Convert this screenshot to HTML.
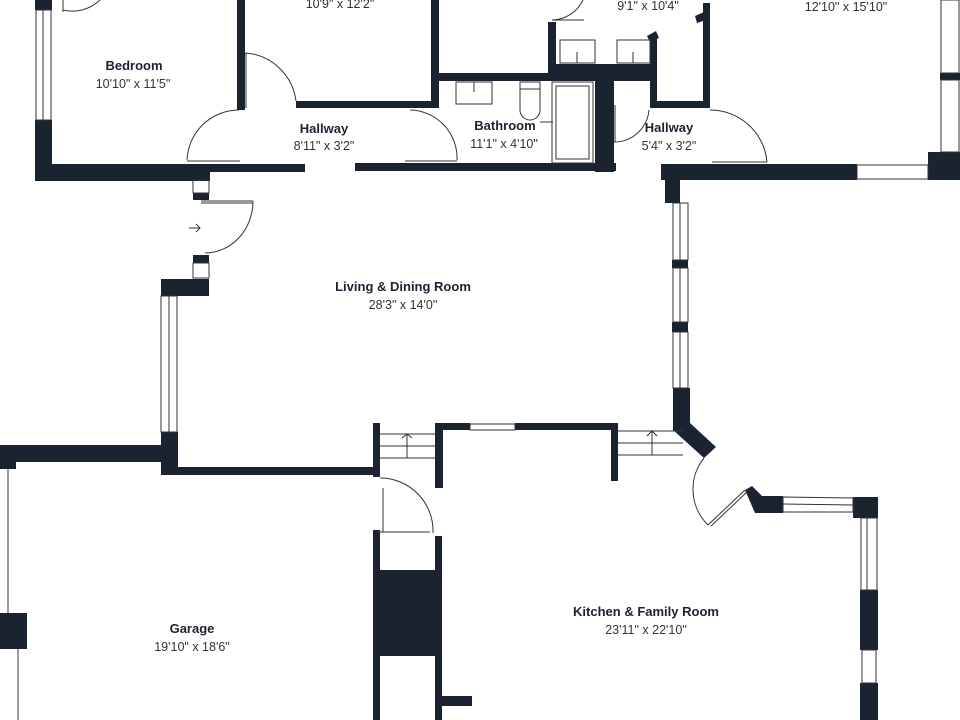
<!DOCTYPE html>
<html><head><meta charset="utf-8"><style>
html,body{margin:0;padding:0;background:#fff;width:960px;height:720px;overflow:hidden}
svg{display:block}
.b{font-family:"Liberation Sans",sans-serif;font-weight:bold;font-size:13px;fill:#1c2330;text-anchor:middle}
.r{font-family:"Liberation Sans",sans-serif;font-size:12.5px;fill:#333;text-anchor:middle}
</style></head><body>
<svg width="960" height="720" viewBox="0 0 960 720" xmlns="http://www.w3.org/2000/svg">
<g fill="#1c2330">
<rect x="35" y="0" width="17" height="10"/>
<rect x="35" y="120" width="17" height="60"/>
<rect x="35" y="164" width="175" height="17"/>
<rect x="193" y="164" width="112" height="8"/>
<rect x="355" y="163" width="261" height="8"/>
<rect x="237" y="0" width="8" height="110"/>
<rect x="431" y="0" width="8" height="108"/>
<rect x="296" y="101" width="143" height="7"/>
<rect x="438" y="73" width="212" height="8"/>
<rect x="548" y="22" width="8" height="58"/>
<rect x="555" y="64" width="95" height="17"/>
<rect x="595" y="64" width="19" height="108"/>
<rect x="650" y="37" width="7" height="71"/>
<polygon points="647,36 656,31 659,38 650,42"/>
<rect x="650" y="101" width="60" height="7"/>
<rect x="703" y="3" width="7" height="105"/>
<polygon points="695,16 704,12 706,20 697,23"/>
<rect x="940" y="73" width="20" height="7"/>
<rect x="928" y="152" width="32" height="28"/>
<rect x="661" y="164" width="196" height="16"/>
<rect x="665" y="164" width="15" height="39"/>
<rect x="672" y="260" width="16" height="8"/>
<rect x="672" y="322" width="16" height="10"/>
<polygon points="673,388 690,388 690,423 716,447 704,458 673,430"/>
<polygon points="745,490 752,486 762,496 783,496 783,513 755,513"/>
<rect x="853" y="497" width="25" height="21"/>
<rect x="860" y="590" width="18" height="60"/>
<rect x="860" y="683" width="18" height="37"/>
<rect x="193" y="193" width="16" height="7"/>
<rect x="193" y="255" width="16" height="8"/>
<rect x="161" y="279" width="48" height="17"/>
<rect x="161" y="432" width="17" height="43"/>
<rect x="0" y="445" width="178" height="17"/>
<rect x="0" y="445" width="16" height="24"/>
<rect x="170" y="467" width="210" height="8"/>
<rect x="373" y="423" width="7" height="54"/>
<rect x="435" y="423" width="8" height="65"/>
<rect x="435" y="423" width="35" height="7"/>
<rect x="515" y="423" width="103" height="7"/>
<rect x="611" y="423" width="7" height="58"/>
<rect x="373" y="530" width="7" height="190"/>
<rect x="435" y="536" width="7" height="184"/>
<rect x="373" y="570" width="69" height="86"/>
<rect x="435" y="696" width="37" height="10"/>
<rect x="0" y="613" width="27" height="36"/>
</g>
<g fill="none" stroke="#333" stroke-width="1">
<rect x="36" y="10" width="15" height="110"/><line x1="43" y1="10" x2="43" y2="120"/>
<rect x="941" y="0" width="18" height="73"/><rect x="941" y="80" width="18" height="72"/>
<rect x="857" y="165" width="71" height="14"/>
<rect x="673" y="203" width="15" height="57"/><line x1="680" y1="203" x2="680" y2="260"/>
<rect x="673" y="268" width="15" height="54"/><line x1="680" y1="268" x2="680" y2="322"/>
<rect x="673" y="332" width="15" height="56"/><line x1="680" y1="332" x2="680" y2="388"/>
<polygon points="783,497 853,498 853,512 783,512"/><line x1="783" y1="504" x2="853" y2="505"/>
<rect x="861" y="518" width="16" height="72"/><line x1="867" y1="518" x2="867" y2="590"/>
<rect x="862" y="650" width="14" height="33"/>
<rect x="161" y="296" width="16" height="136"/><line x1="169" y1="296" x2="169" y2="432"/>
<rect x="193" y="180" width="16" height="13"/><rect x="193" y="263" width="16" height="15"/>
<rect x="470" y="424" width="45" height="6"/>
<line x1="8" y1="469" x2="8" y2="613"/><line x1="18" y1="649" x2="18" y2="720"/>
<line x1="380" y1="434" x2="435" y2="434"/><line x1="380" y1="446" x2="435" y2="446"/><line x1="380" y1="458" x2="435" y2="458"/>
<line x1="407" y1="434" x2="407" y2="458"/><polyline points="402,438 407,434 412,438"/>
<line x1="618" y1="431" x2="683" y2="431"/><line x1="618" y1="443" x2="683" y2="443"/><line x1="618" y1="455" x2="683" y2="455"/>
<line x1="652" y1="431" x2="652" y2="455"/><polyline points="647,436 652,431 657,436"/>
<path d="M245,53 A55,55 0 0 1 296,101"/><line x1="246" y1="53" x2="246" y2="108"/>
<path d="M187,160 A52,52 0 0 1 239,110"/><line x1="187" y1="161" x2="240" y2="161"/>
<path d="M410,110 A48,48 0 0 1 457,160"/><line x1="405" y1="161" x2="457" y2="161"/>
<path d="M253,201 A48,52 0 0 1 205,253"/><line x1="201" y1="201" x2="253" y2="201"/><line x1="201" y1="203" x2="253" y2="203"/>
<path d="M710,110 A57,57 0 0 1 767,162"/><line x1="712" y1="162" x2="767" y2="162"/>
<path d="M614,142 A35,35 0 0 0 649,110"/><line x1="615" y1="105" x2="615" y2="142"/>
<path d="M63,10 A40,40 0 0 0 100,0"/><line x1="63" y1="0" x2="63" y2="12"/>
<path d="M552,20 A35,35 0 0 0 583,0"/><line x1="552" y1="20" x2="584" y2="20"/>
<path d="M380,478 A53,53 0 0 1 433,533"/><line x1="383" y1="488" x2="383" y2="532"/><line x1="376" y1="532" x2="430" y2="532"/>
<path d="M704,458 A50,50 0 0 0 708,525"/><line x1="708" y1="525" x2="745" y2="490"/><line x1="711" y1="526" x2="747" y2="492"/>
<rect x="560" y="40" width="35" height="23"/><line x1="577" y1="52" x2="577" y2="63"/>
<rect x="617" y="40" width="33" height="23"/><line x1="633" y1="52" x2="633" y2="63"/>
<rect x="456" y="82" width="36" height="22"/><line x1="474" y1="82" x2="474" y2="92"/>
<path d="M520,82 h20 v28 a10,10 0 0 1 -20,0 z"/><line x1="520" y1="89" x2="540" y2="89"/>
<rect x="552" y="82" width="41" height="81"/><rect x="556" y="86" width="33" height="73"/>
<line x1="540" y1="122" x2="553" y2="122"/>
<path d="M189,228 h11 M196,224 l4,4 l-4,4"/>
</g>
<g>
<text class="r" x="340" y="8">10'9" x 12'2"</text>
<text class="r" x="648" y="10">9'1" x 10'4"</text>
<text class="r" x="846" y="11">12'10" x 15'10"</text>
<text class="b" x="134" y="70">Bedroom</text>
<text class="r" x="133" y="88">10'10" x 11'5"</text>
<text class="b" x="324" y="133">Hallway</text>
<text class="r" x="324" y="150">8'11" x 3'2"</text>
<text class="b" x="505" y="130">Bathroom</text>
<text class="r" x="504" y="148">11'1" x 4'10"</text>
<text class="b" x="669" y="132">Hallway</text>
<text class="r" x="669" y="150">5'4" x 3'2"</text>
<text class="b" x="403" y="291">Living  &amp; Dining Room</text>
<text class="r" x="403" y="309">28'3" x 14'0"</text>
<text class="b" x="192" y="633">Garage</text>
<text class="r" x="192" y="651">19'10" x 18'6"</text>
<text class="b" x="646" y="616">Kitchen &amp; Family Room</text>
<text class="r" x="646" y="634">23'11" x 22'10"</text>
</g>
</svg>
</body></html>
